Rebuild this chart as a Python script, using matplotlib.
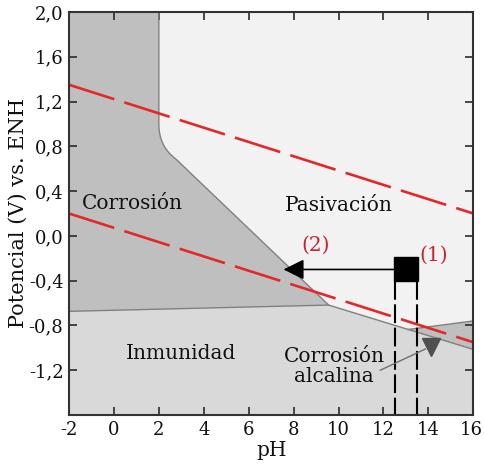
import numpy as np
import matplotlib
matplotlib.use("Agg")
import matplotlib.pyplot as plt
import matplotlib.transforms as mtransforms
from matplotlib.patches import Polygon

plt.rcParams['font.family'] = ['DejaVu Serif']

# ---- data ----
x_ticks = [-2, 0, 2, 4, 6, 8, 10, 12, 14, 16]
y_ticks = [2.0, 1.6, 1.2, 0.8, 0.4, 0.0, -0.4, -0.8, -1.2]
y_tick_labels = ["2,0", "1,6", "1,2", "0,8", "0,4", "0,0", "-0,4", "-0,8", "-1,2"]

# region boundary vertices (pH, V)
vertical_ph = 2.0
vertical_top = 2.0
vertical_bottom = 1.0
knee_ctrl = (2.0, 0.80)
diag_start = (2.75, 0.688)
triple_point = (9.56, -0.618)
immunity_left = (-2.0, -0.674)
alk_apex = (13.1, -0.836)
alk_top_right = (16.0, -0.76)
pass_bottom_right = (16.0, -1.014)

# water stability lines (red dashed)
o2_line_ph = [-2, 16]
o2_line_v = [1.35, 0.20]
h2_line_ph = [-2, 16]
h2_line_v = [0.20, -0.95]

# experiment marks
point1 = (13.0, -0.30)
arrow_end_ph = 7.55
square_edges_ph = [12.5, 13.5]
square_bottom_v = -0.40
alk_arrow_start = (11.86, -1.20)
alk_marker = (14.12, -0.99)

labels = {
    "Corrosión": (0.83, 0.29),
    "Pasivación": (10.0, 0.27),
    "Inmunidad": (3.0, -1.05),
    "Corrosión\nalcalina": (9.8, -1.17),
}
red_labels = {"(2)": (9.0, -0.08), "(1)": (14.22, -0.175)}

xlim = (-2, 16)
ylim = (-1.6, 2.0)

# ---- figure ----
fig = plt.figure(figsize=(4.84, 4.65), dpi=100)
ax = fig.add_axes([69/484, 50/465, (473.3-69)/484, (415-12)/465])

c_corr = '#bfbfbf'
c_pass = '#f2f2f2'
c_imm = '#d9d9d9'
c_edge = '#808080'

# knee curve (quadratic bezier)
t = np.linspace(0, 1, 20)
p0 = np.array([vertical_ph, vertical_bottom])
p1 = np.array(knee_ctrl)
p2 = np.array(diag_start)
knee = ((1-t)**2)[:, None]*p0 + (2*(1-t)*t)[:, None]*p1 + (t**2)[:, None]*p2
knee = [tuple(p) for p in knee]

corr_poly = [(xlim[0], ylim[1]), (vertical_ph, vertical_top)] + knee + [triple_point, immunity_left]
pass_poly = [(vertical_ph, vertical_top), (xlim[1], ylim[1]), alk_top_right, alk_apex, triple_point] + knee[::-1]
imm_poly = [(xlim[0], ylim[0]), (xlim[1], ylim[0]), pass_bottom_right, alk_apex, triple_point, immunity_left]
alk_poly = [alk_apex, alk_top_right, pass_bottom_right]

for poly, col in [(imm_poly, c_imm), (corr_poly, c_corr), (pass_poly, c_pass), (alk_poly, c_corr)]:
    ax.add_patch(Polygon(poly, closed=True, facecolor=col, edgecolor='none', zorder=1))

# boundaries
bx = [vertical_ph, vertical_ph] + [p[0] for p in knee] + [triple_point[0], alk_apex[0], pass_bottom_right[0]]
by = [vertical_top, vertical_bottom] + [p[1] for p in knee] + [triple_point[1], alk_apex[1], pass_bottom_right[1]]
ax.plot(bx, by, color=c_edge, lw=1.0, zorder=2)
ax.plot([immunity_left[0], triple_point[0]], [immunity_left[1], triple_point[1]], color=c_edge, lw=1.0, zorder=2)
ax.plot([alk_apex[0], alk_top_right[0]], [alk_apex[1], alk_top_right[1]], color=c_edge, lw=1.0, zorder=2)

# red dashed lines
red = '#e3282a'
for xs, ys in [(o2_line_ph, o2_line_v), (h2_line_ph, h2_line_v)]:
    ax.plot(xs, ys, color=red, lw=1.9, dashes=(18, 4), zorder=3, dash_capstyle='butt')

# black dashed verticals
for xe in square_edges_ph:
    ax.plot([xe, xe], [square_bottom_v, ylim[0]], color='black', lw=1.5, dashes=(9, 2.2), zorder=4)

# arrow from square
ax.annotate('', xy=(arrow_end_ph, point1[1]), xytext=(point1[0], point1[1]),
            arrowprops=dict(arrowstyle='-|>,head_length=1.25,head_width=0.62', color='black',
                            lw=1.2, shrinkA=0, shrinkB=0, mutation_scale=10), zorder=5)
ax.plot([point1[0]], [point1[1]], marker='s', markersize=16.6, color='black', zorder=6)

# grey arrow to alkaline region
ax.plot([alk_arrow_start[0], alk_marker[0]-0.25], [alk_arrow_start[1], alk_marker[1]-0.02],
        color='#707070', lw=1.0, zorder=4)
ax.plot([alk_marker[0]], [alk_marker[1]], marker='v', markersize=13, color='#505050', zorder=5)

fs = 14.5
for txt, (x, y) in labels.items():
    ax.text(x, y, txt, ha='center', va='center', fontsize=fs, color='#111111', zorder=7,
            linespacing=1.05)
for txt, (x, y) in red_labels.items():
    ax.text(x, y, txt, ha='center', va='center', fontsize=fs, color='#c8262a', zorder=7)

ax.set_xlim(*xlim)
ax.set_ylim(*ylim)
ax.set_xticks(x_ticks)
ax.set_xticklabels([str(v) for v in x_ticks])
ax.set_yticks(y_ticks)
ax.set_yticklabels(y_tick_labels)
ax.tick_params(direction='in', length=5.5, width=1.2, top=True, right=True,
               labelsize=13, colors='#2a2a2a', labelcolor='#111111', pad=4)
# keep the last x tick label inside the canvas
last = ax.get_xticklabels()[-1]
last.set_transform(last.get_transform() + mtransforms.ScaledTranslation(-2/100, 0, fig.dpi_scale_trans))
for s in ax.spines.values():
    s.set_linewidth(1.5)
    s.set_color('#333333')
    s.set_zorder(8)
ax.set_xlabel('pH', fontsize=fs, color='#111111', labelpad=2)
ax.set_ylabel('Potencial (V) vs. ENH', fontsize=15, color='#111111', labelpad=1)

fig.savefig('out.png', dpi=100)
